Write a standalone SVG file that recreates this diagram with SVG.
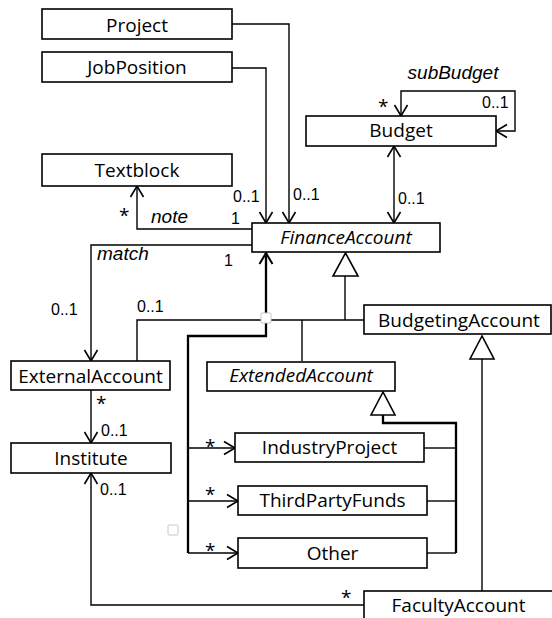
<svg xmlns="http://www.w3.org/2000/svg" width="552" height="618" viewBox="0 0 552 618">
<style>
.box{fill:#fff;stroke:#000;stroke-width:1.6}
.t{font-family:"Open Sans","Noto Sans",sans-serif;font-size:19px;text-anchor:middle;fill:#000}
.it{font-style:italic}
.lbl{font-family:"Liberation Sans",Arial,sans-serif;font-size:16px;fill:#000}
.role{font-family:"Liberation Sans",Arial,sans-serif;font-size:19px;font-style:italic;fill:#000}
.star{font-family:"Open Sans","Noto Sans",sans-serif;font-size:19px;fill:#000}
.c{fill:none;stroke:#000;stroke-width:1.4}
.thick{fill:none;stroke:#000;stroke-width:2.3}
.gen{fill:#fff;stroke:#000;stroke-width:1.6}
.sq{fill:#fff;stroke:#c8c8c8;stroke-width:1}
</style>
<defs>
<marker id="arr" markerUnits="userSpaceOnUse" viewBox="-13 -8 15 16" refX="0" refY="0" markerWidth="15" markerHeight="16" orient="auto-start-reverse">
<path d="M-11,-6.5 L0,0 L-11,6.5" fill="none" stroke="#000" stroke-width="1.6"/>
</marker>
<marker id="arrT" markerUnits="userSpaceOnUse" viewBox="-13 -8 15 16" refX="0" refY="0" markerWidth="15" markerHeight="16" orient="auto-start-reverse">
<path d="M-11,-6.5 L0,0 L-11,6.5" fill="none" stroke="#000" stroke-width="2"/>
</marker>
</defs>
<g id="connectors">
<path class="c" d="M232,24 H289 V223" marker-end="url(#arr)"/>
<path class="c" d="M232,68 H266 V223" marker-end="url(#arr)"/>
<path class="c" d="M401,116 V91 H515 V131 H496" marker-start="url(#arr)" marker-end="url(#arr)"/>
<path class="c" d="M394,146 V223" marker-start="url(#arr)" marker-end="url(#arr)"/>
<path class="c" d="M137,186 V229 H252" marker-start="url(#arr)"/>
<path class="c" d="M252,245 H91 V361" marker-end="url(#arr)"/>
<path class="c" d="M137,361 V320 H364"/>
<path class="c" d="M345,276 V320"/>
<path class="c" d="M302,320 V361"/>
<polygon class="gen" points="345.5,253 333,276 358,276"/>
<path class="thick" d="M266,253 V336 H188 V553" marker-start="url(#arrT)"/>
<path class="c" d="M188,448 H235" marker-end="url(#arr)"/>
<path class="c" d="M188,501 H238" marker-end="url(#arr)"/>
<path class="c" d="M188,553 H238" marker-end="url(#arr)"/>
<polygon class="gen" points="383,392 371,415 395,415"/>
<path class="thick" d="M383,415 V423 H456 V553"/>
<path class="c" d="M424,448 H456"/>
<path class="c" d="M427,501 H456"/>
<path class="c" d="M427,553 H456"/>
<path class="c" d="M91,390 V443" marker-end="url(#arr)"/>
<path class="c" d="M364,605 H91 V473" marker-end="url(#arr)"/>
<polygon class="gen" points="482,336 470,359 494,359"/>
<path class="c" d="M482,359 V591"/>
<rect class="sq" x="261" y="313" width="10" height="10" rx="1"/>
<rect class="sq" x="168" y="525" width="10" height="10" rx="1"/>
</g>
<g id="labels">
<text class="role" x="453" y="79" text-anchor="middle">subBudget</text>
<text class="star" x="378" y="113">*</text>
<text class="lbl" x="482" y="108">0..1</text>
<text class="lbl" x="398" y="204">0..1</text>
<text class="lbl" x="233" y="202">0..1</text>
<text class="lbl" x="293" y="200">0..1</text>
<text class="star" x="119" y="222">*</text>
<text class="role" x="151" y="223">note</text>
<text class="lbl" x="231" y="224">1</text>
<text class="role" x="97" y="260">match</text>
<text class="lbl" x="224" y="266">1</text>
<text class="lbl" x="51" y="315">0..1</text>
<text class="lbl" x="137" y="312">0..1</text>
<text class="star" x="96" y="410">*</text>
<text class="lbl" x="101" y="436">0..1</text>
<text class="lbl" x="100" y="495">0..1</text>
<text class="star" x="205" y="453">*</text>
<text class="star" x="205" y="501">*</text>
<text class="star" x="205" y="557">*</text>
<text class="star" x="341" y="604">*</text>
</g>
<g id="Project"><rect class="box" x="42" y="9" width="190" height="30"/><text class="t" x="137" y="32">Project</text></g>
<g id="JobPosition"><rect class="box" x="42" y="52" width="190" height="30"/><text class="t" x="137" y="74">JobPosition</text></g>
<g id="Textblock"><rect class="box" x="42" y="154" width="190" height="32"/><text class="t" x="137" y="177">Textblock</text></g>
<g id="Budget"><rect class="box" x="306" y="116" width="190" height="30"/><text class="t" x="401" y="137">Budget</text></g>
<g id="FinanceAccount"><rect class="box" x="252" y="223" width="188" height="29"/><text class="t it" x="346" y="244">FinanceAccount</text></g>
<g id="BudgetingAccount"><rect class="box" x="364" y="305" width="187" height="29"/><text class="t" x="459" y="327">BudgetingAccount</text></g>
<g id="ExternalAccount"><rect class="box" x="11" y="361" width="159" height="29"/><text class="t" x="90.5" y="383">ExternalAccount</text></g>
<g id="ExtendedAccount"><rect class="box" x="207" y="362" width="188" height="29"/><text class="t it" x="301" y="382">ExtendedAccount</text></g>
<g id="Institute"><rect class="box" x="11" y="443" width="160" height="30"/><text class="t" x="91" y="465">Institute</text></g>
<g id="IndustryProject"><rect class="box" x="235" y="433" width="189" height="29"/><text class="t" x="329.5" y="454">IndustryProject</text></g>
<g id="ThirdPartyFunds"><rect class="box" x="238" y="486" width="189" height="29"/><text class="t" x="332.5" y="507">ThirdPartyFunds</text></g>
<g id="Other"><rect class="box" x="238" y="538" width="189" height="30"/><text class="t" x="332.5" y="560">Other</text></g>
<g id="FacultyAccount"><rect class="box" x="364" y="591" width="192" height="32"/><text class="t" x="458.5" y="612">FacultyAccount</text></g>
</svg>
